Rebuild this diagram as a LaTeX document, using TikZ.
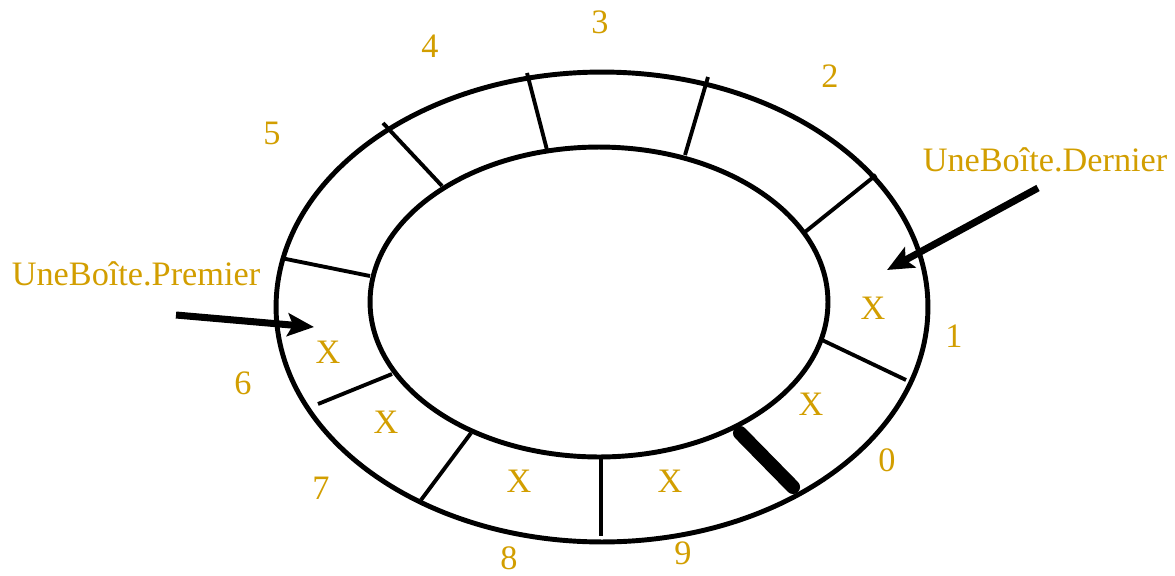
\documentclass[tikz,border=0pt]{standalone}
\usepackage{fontspec}
\setmainfont{Liberation Serif}
\usetikzlibrary{arrows.meta,shapes.geometric}
\definecolor{gold}{RGB}{210,158,0}
\begin{document}
\begin{tikzpicture}[x=0.02cm,y=-0.02cm,
  ring/.style={draw=black,line width=2.8pt},
  sep/.style={draw=black,line width=2.2pt},
  headsep/.style={draw=black,line width=8pt,line cap=round},
  lbl/.style={text=gold,font=\fontsize{19.5pt}{22pt}\selectfont,inner sep=0pt},
  ptr/.style={draw=black,line width=4pt,-{Stealth[length=15pt,width=13pt,inset=3pt]}}]
\useasboundingbox (0,0) rectangle (1175,575);
% rings
\node[ring,ellipse,minimum width=13.04cm,minimum height=9.4cm,inner sep=0pt,draw] (outer) at (602,307) {};
\node[ring,ellipse,minimum width=9.16cm,minimum height=6.2cm,inner sep=0pt,draw] (inner) at (599,302) {};
% separators
\draw[sep] (383,123) -- (442,186);
\draw[sep] (527,73) -- (547,150);
\draw[sep] (708,77) -- (685,155);
\draw[sep] (876,175) -- (805,232);
\draw[sep] (822,340) -- (906,380);
\draw[headsep] (740,433) -- (793,487);
\draw[sep] (601,455) -- (601,536);
\draw[sep] (471,433) -- (421,500);
\draw[sep] (392,374) -- (318,404);
\draw[sep] (370,276) -- (281,258);
% indices
\node[lbl] (n3) at (600,22) {3};
\node[lbl] (n4) at (430,46) {4};
\node[lbl] (n2) at (830,76) {2};
\node[lbl] (n5) at (272,133) {5};
\node[lbl] (n1) at (954,336) {1};
\node[lbl] (n0) at (887,460) {0};
\node[lbl] (n9) at (683,553) {9};
\node[lbl] (n8) at (509,558) {8};
\node[lbl] (n7) at (321,488) {7};
\node[lbl] (n6) at (243,383) {6};
% contents
\node[lbl] (x1) at (873,308) {X};
\node[lbl] (x0) at (811,404) {X};
\node[lbl] (x9) at (670,481) {X};
\node[lbl] (x8) at (519,481) {X};
\node[lbl] (x7) at (386,422) {X};
\node[lbl] (x6) at (328,352) {X};
% pointers
\node[lbl] (prem) at (136,274) {UneBoîte.Premier};
\node[lbl] (dern) at (1045,160) {UneBoîte.Dernier};
\coordinate (ps) at (176,315);
\coordinate (pe) at (314,327);
\coordinate (ds) at (1038,188);
\coordinate (de) at (887,270);
\draw[ptr] (ps) -- (pe);
\draw[ptr] (ds) -- (de);
\end{tikzpicture}
\end{document}
